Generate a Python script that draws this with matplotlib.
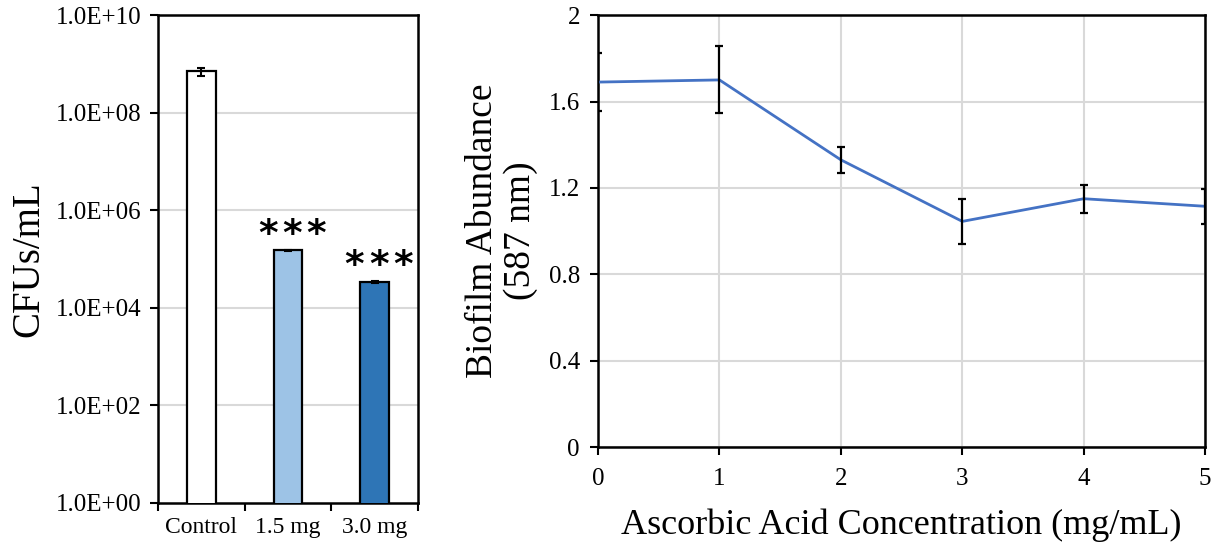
import numpy as np
import matplotlib
matplotlib.use("Agg")
import matplotlib.pyplot as plt
from matplotlib.ticker import FixedLocator, FuncFormatter

plt.rcParams['font.family'] = ['Liberation Serif', 'DejaVu Serif']

# ---- left panel data: CFU counts
groups = ["Control", "1.5 mg", "3.0 mg"]
cfu = [7.0e8, 1.5e5, 3.4e4]
cfu_err = [1.3e8, 4.0e3, 1.5e3]
bar_colors = ["white", "#9DC3E6", "#2E75B6"]
n_stars = [0, 3, 3]

# ---- right panel data: biofilm vs concentration
conc = [0, 1, 2, 3, 4, 5]
biofilm = [1.69, 1.70, 1.33, 1.045, 1.15, 1.115]
biofilm_err = [0.135, 0.155, 0.06, 0.105, 0.065, 0.08]

fig = plt.figure(figsize=(12.19, 5.52), dpi=100)

# ==============================
# LEFT: bar chart, log scale
# ==============================
ax1 = fig.add_axes([0.1296, 0.0888, 0.2133, 0.884])
x = np.arange(len(groups))
ax1.bar(x, cfu, width=0.33, color=bar_colors, edgecolor="black", linewidth=1.6, zorder=3)
ax1.errorbar(x, cfu, yerr=cfu_err, fmt="none", ecolor="black", elinewidth=1.5,
             capsize=3, capthick=1.5, zorder=4)
# significance stars, spaced out a bit like the original
for xi, v, n in zip(x, cfu, n_stars):
    for k in range(n):
        dx = (k - (n - 1) / 2) * 17.5 + 3
        ax1.annotate("*", (xi, v), xytext=(dx, 4), textcoords="offset points",
                     ha="center", va="baseline", fontsize=27, fontweight="bold",
                     family="DejaVu Sans")

ax1.set_yscale("log")
ax1.set_ylim(1, 1e10)
ax1.set_xlim(-0.5, 2.5)
yt = [1e0, 1e2, 1e4, 1e6, 1e8, 1e10]
ax1.yaxis.set_major_locator(FixedLocator(yt))
ax1.yaxis.set_minor_locator(FixedLocator([]))
ax1.yaxis.set_major_formatter(FuncFormatter(lambda v, p: "1.0E+%02d" % round(np.log10(v))))
for v in yt[1:-1]:
    ax1.axhline(v, color="#d9d9d9", linewidth=1.5, zorder=1)

ax1.set_xticks(x)
ax1.set_xticklabels(groups)
ax1.set_xticks([-0.5, 0.5, 1.5, 2.5], minor=True)
ax1.tick_params(axis="x", which="major", length=0, labelsize=17, pad=10)
ax1.tick_params(axis="x", which="minor", length=6, width=1.5, direction="out")
ax1.tick_params(axis="y", which="major", length=6, width=1.5, labelsize=18, pad=6)
ax1.set_ylabel("CFUs/mL", fontsize=28, labelpad=6)
for sp in ax1.spines.values():
    sp.set_linewidth(1.8)

# ==============================
# RIGHT: line chart with error bars
# ==============================
ax2 = fig.add_axes([0.4906, 0.190, 0.498, 0.7826])
ax2.plot(conc, biofilm, color="#4472C4", linewidth=2, zorder=3)
ax2.errorbar(conc, biofilm, yerr=biofilm_err, fmt="none", ecolor="black",
             elinewidth=1.6, capsize=3, capthick=1.6, zorder=4)
ax2.set_xlim(0, 5)
ax2.set_ylim(0, 2)
ax2.set_xticks(conc)
ax2.set_yticks([0, 0.4, 0.8, 1.2, 1.6, 2])
ax2.set_yticklabels(["0", "0.4", "0.8", "1.2", "1.6", "2"])
ax2.grid(True, color="#d9d9d9", linewidth=1.5, zorder=1)
ax2.set_axisbelow(True)
ax2.tick_params(axis="both", length=6, width=1.5, labelsize=18)
ax2.tick_params(axis="x", pad=9)
ax2.tick_params(axis="y", pad=7)
ax2.set_xlabel("Ascorbic Acid Concentration (mg/mL)", fontsize=26, labelpad=13)
ax2.set_ylabel("Biofilm Abundance\n(587 nm)", fontsize=27, labelpad=8, linespacing=1.1)
for sp in ax2.spines.values():
    sp.set_linewidth(1.8)

fig.savefig("out.png", dpi=100)
